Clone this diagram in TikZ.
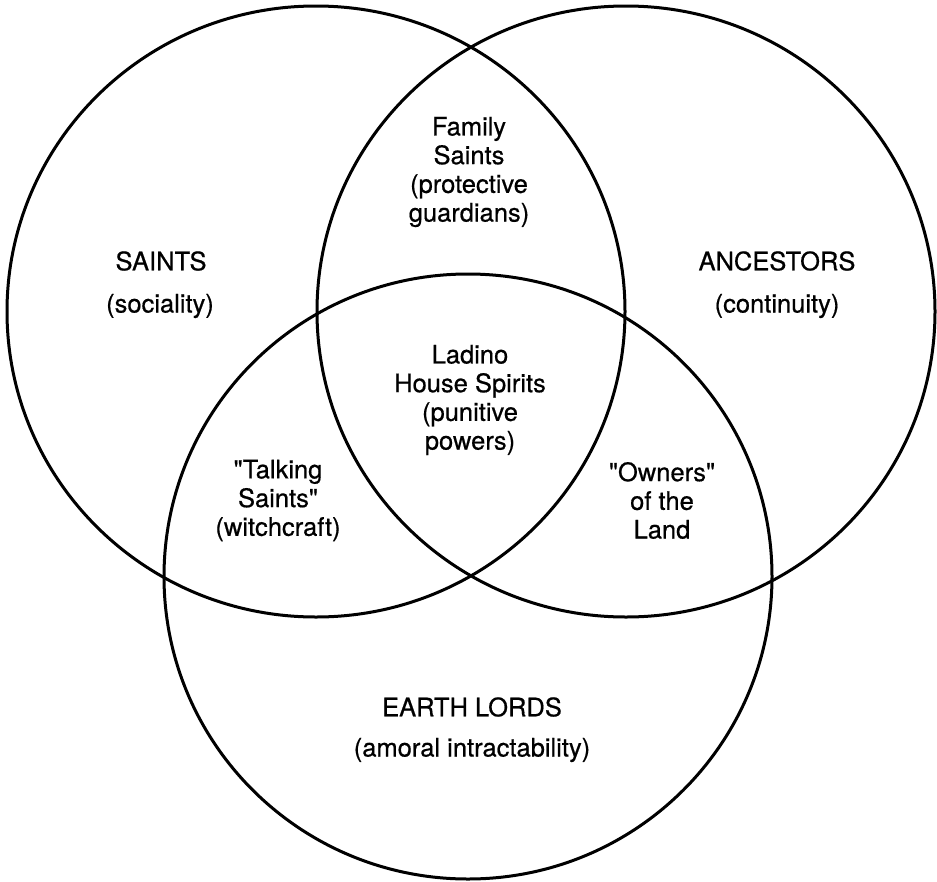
\documentclass[tikz,border=0pt]{standalone}
\usepackage{fontspec}
\setmainfont{TeX Gyre Heros}[FakeBold=0.6, Ligatures=TeXOff]
\newfontfamily\qfont{TeX Gyre Heros}[FakeBold=0.6]
\newcommand{\sq}{{\qfont\symbol{34}}}
\begin{document}
\begin{tikzpicture}[x=1pt,y=-1pt,
  ring/.style={draw=black, line width=3pt},
  lbl/.style={font=\fontsize{25.5}{28.7}\selectfont, align=center, inner sep=0pt, text=black}]
\useasboundingbox[fill=white] (0,0) rectangle (937,881);
% circles
\draw[ring] (316,311.5) ellipse [x radius=309pt, y radius=305.5pt];
\draw[ring] (626,311.5) ellipse [x radius=309pt, y radius=305.5pt];
\draw[ring] (468,576.5) ellipse [x radius=304pt, y radius=302.5pt];
% labels
\node[lbl] (saints) at (161,261) {SAINTS};
\node[lbl] (saintsnote) at (160,306) {(sociality)};
\node[lbl] (ancestors) at (777,261) {ANCESTORS};
\node[lbl] (ancestorsnote) at (777,306) {(continuity)};
\node[lbl] (family) at (469,172) {Family\\Saints\\(protective\\guardians)};
\node[lbl] (ladino) at (470,400) {Ladino\\House Spirits\\(punitive\\powers)};
\node[lbl] (talking) at (278,500.5) {\sq Talking\\Saints\sq\\(witchcraft)};
\node[lbl] (owners) at (662,500.5) {\sq Owners\sq\\of the\\Land};
\node[lbl] (earth) at (472,707) {EARTH LORDS};
\node[lbl] (earthnote) at (472,750) {(amoral intractability)};
\end{tikzpicture}
\end{document}
